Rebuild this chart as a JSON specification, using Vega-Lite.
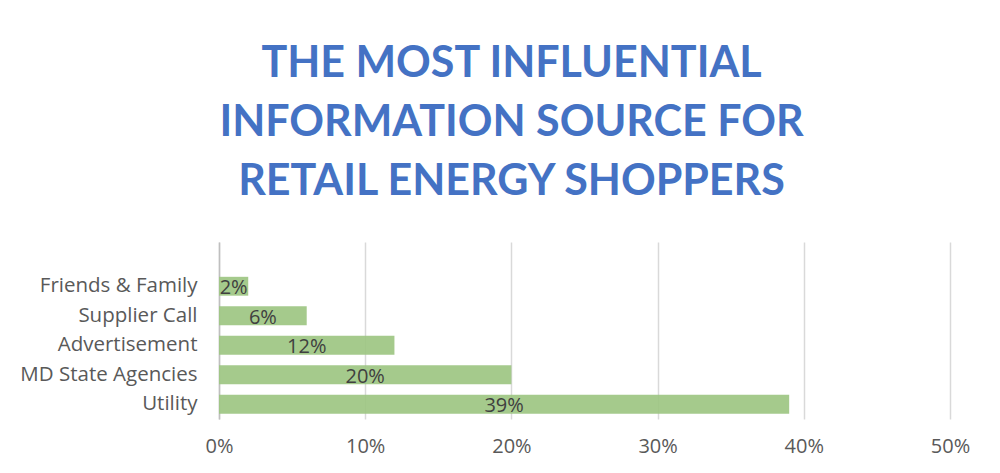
{
  "$schema": "https://vega.github.io/schema/vega-lite/v6.json",
  "autosize": "none",
  "width": 731,
  "height": 177,
  "padding": {"left": 219, "top": 242, "right": 50, "bottom": 54},
  "background": "white",
  "title": {
    "text": ["THE MOST INFLUENTIAL", "INFORMATION SOURCE FOR", "RETAIL ENERGY SHOPPERS"],
    "font": "Lato",
    "fontSize": 43,
    "fontWeight": "bold",
    "color": "#4472C4",
    "lineHeight": 59,
    "anchor": "middle",
    "frame": "group",
    "dx": -73,
    "offset": 38
  },
  "config": {
    "view": {"stroke": null},
    "font": "Open Sans"
  },
  "data": {
    "values": [
      {"source": "Friends & Family", "value": 0.02},
      {"source": "Supplier Call", "value": 0.06},
      {"source": "Advertisement", "value": 0.12},
      {"source": "MD State Agencies", "value": 0.20},
      {"source": "Utility", "value": 0.39}
    ]
  },
  "encoding": {
    "y": {
      "field": "source",
      "type": "nominal",
      "sort": null,
      "scale": {
        "domain": ["", "Friends & Family", "Supplier Call", "Advertisement", "MD State Agencies", "Utility"],
        "paddingInner": 0.36,
        "paddingOuter": 0.18
      },
      "axis": {
        "title": null,
        "ticks": false,
        "domain": true,
        "domainColor": "#bfbfbf",
        "domainWidth": 1.5,
        "labelFont": "Open Sans",
        "labelFontSize": 20.5,
        "labelColor": "#595959",
        "labelPadding": 22,
        "grid": false
      }
    }
  },
  "layer": [
    {
      "mark": {"type": "bar", "color": "#9DC682", "fillOpacity": 0.92},
      "encoding": {
        "x": {
          "field": "value",
          "type": "quantitative",
          "scale": {"domain": [0, 0.5], "nice": false},
          "axis": {
            "title": null,
            "format": ".0%",
            "values": [0, 0.1, 0.2, 0.3, 0.4, 0.5],
            "ticks": false,
            "domain": false,
            "grid": true,
            "gridColor": "#d9d9d9",
            "gridWidth": 1.5,
            "labelFont": "Open Sans",
            "labelFontSize": 20,
            "labelColor": "#595959",
            "labelPadding": 17,
            "labelFlush": false
          }
        }
      }
    },
    {
      "mark": {"type": "text", "font": "Open Sans", "fontSize": 20, "color": "#404040", "baseline": "middle", "align": "center", "dy": 2},
      "encoding": {
        "x": {
          "field": "value",
          "type": "quantitative",
          "scale": {"domain": [0, 1], "nice": false},
          "axis": null
        },
        "text": {"field": "value", "type": "quantitative", "format": ".0%"}
      }
    }
  ],
  "resolve": {"scale": {"x": "independent"}}
}
